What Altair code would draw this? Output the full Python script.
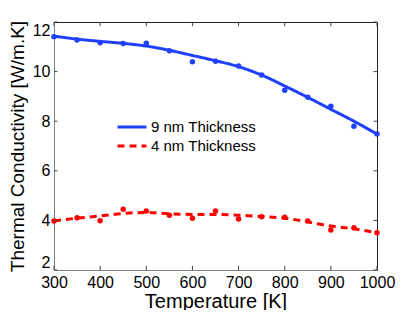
import altair as alt
import pandas as pd

temps = [300, 350, 400, 450, 500, 550, 600, 650, 700, 750, 800, 850, 900, 950, 1000]
series_names = ["9 nm Thickness", "4 nm Thickness"]
blue_pts = [11.41, 11.27, 11.16, 11.13, 11.14, 10.84, 10.4, 10.42, 10.23, 9.86, 9.25, 8.97, 8.6, 7.8, 7.48]
blue_fit = [11.43, 11.31, 11.22, 11.14, 11.03, 10.86, 10.65, 10.44, 10.2, 9.86, 9.42, 8.96, 8.48, 8.0, 7.48]
red_pts = [3.98, 4.11, 3.99, 4.45, 4.38, 4.21, 4.09, 4.38, 4.06, 4.15, 4.13, 3.98, 3.61, 3.7, 3.5]
red_fit = [3.98, 4.09, 4.18, 4.28, 4.32, 4.27, 4.24, 4.24, 4.21, 4.16, 4.09, 3.94, 3.77, 3.66, 3.5]
x_ticks = [300, 400, 500, 600, 700, 800, 900, 1000]
y_ticks = [2, 4, 6, 8, 10, 12]

rows = []
for i, t in enumerate(temps):
    rows.append({"T": t, "k": blue_pts[i], "fit": blue_fit[i], "s": series_names[0]})
    rows.append({"T": t, "k": red_pts[i], "fit": red_fit[i], "s": series_names[1]})
df = pd.DataFrame(rows)

xs = alt.Scale(domain=[300, 1000], nice=False)
ys = alt.Scale(domain=[2, 12], nice=False)
cs = alt.Scale(domain=series_names, range=["#2040ff", "#ff0000"])
ds = alt.Scale(domain=series_names, range=[[1, 0], [7, 5]])

X = alt.X("T:Q", scale=xs, title="Temperature [K]",
          axis=alt.Axis(values=x_ticks, ticks=False, format="d", labelFlush=False,
                        labelPadding=4, titlePadding=1, titleFontSize=20))
Y = alt.Y("fit:Q", scale=ys, title="Thermal Conductivity [W/m.K]",
          axis=alt.Axis(values=y_ticks, ticks=False, labelFlush=True,
                        labelPadding=4, titlePadding=5, titleFontSize=19))

lines = alt.Chart(df).mark_line(strokeWidth=3, interpolate="monotone").encode(
    x=X, y=Y,
    color=alt.Color("s:N", scale=cs, title=None,
                    legend=alt.Legend(orient="none", legendX=62, legendY=97,
                                      symbolType="stroke", symbolSize=840,
                                      symbolStrokeWidth=3, labelFontSize=15,
                                      labelFont="Liberation Sans", labelColor="black",
                                      clipHeight=16, rowPadding=3, labelOffset=3)),
    strokeDash=alt.StrokeDash("s:N", scale=ds, title=None),
    order=alt.Order("T:Q"),
)

pts = alt.Chart(df).mark_circle(size=30, opacity=1).encode(
    x=alt.X("T:Q", scale=xs),
    y=alt.Y("k:Q", scale=ys),
    color=alt.Color("s:N", scale=cs, legend=None),
)

xt = pd.DataFrame({"T": x_ticks})
yt = pd.DataFrame({"v": y_ticks})
tick_len_y = 0.17
tick_len_x = 7.5
tick_col = "#444444"
xb = alt.Chart(xt).mark_rule(color=tick_col, strokeWidth=1).encode(
    x=alt.X("T:Q", scale=xs), y=alt.YDatum(2), y2=alt.Y2Datum(2 + tick_len_y))
xtop = alt.Chart(xt).mark_rule(color=tick_col, strokeWidth=1).encode(
    x=alt.X("T:Q", scale=xs), y=alt.YDatum(12), y2=alt.Y2Datum(12 - tick_len_y))
yl = alt.Chart(yt).mark_rule(color=tick_col, strokeWidth=1).encode(
    y=alt.Y("v:Q", scale=ys), x=alt.XDatum(300), x2=alt.X2Datum(300 + tick_len_x))
yr = alt.Chart(yt).mark_rule(color=tick_col, strokeWidth=1).encode(
    y=alt.Y("v:Q", scale=ys), x=alt.XDatum(1000), x2=alt.X2Datum(1000 - tick_len_x))

chart = alt.layer(lines, pts, xb, xtop, yl, yr).properties(
    width=323, height=248,
    autosize=alt.AutoSizeParams(type="none"),
    padding={"left": 46, "top": 14, "right": 30, "bottom": 40},
    background="white",
).configure_view(stroke="#222222", strokeWidth=1).configure_axis(
    labelFont="Liberation Sans", titleFont="Liberation Sans",
    labelFontSize=16, titleFontWeight="normal",
    labelColor="black", titleColor="black", domainColor="#808080", grid=False,
)

chart.save("out.html", embed_options={"renderer": "svg", "actions": False})
